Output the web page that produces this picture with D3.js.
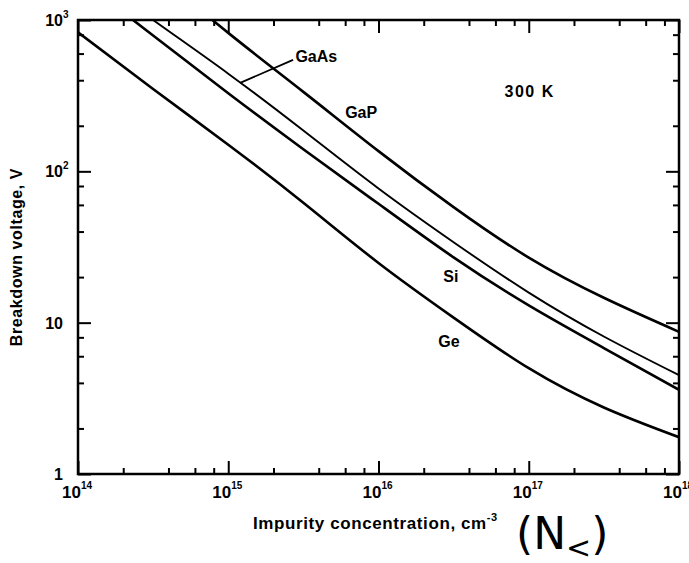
<!DOCTYPE html>
<html>
<head>
<meta charset="utf-8">
<script src="https://cdn.jsdelivr.net/npm/d3@7"></script>
<style>
  body { margin: 0; background: #fff; }
  svg { display: block; }
  text { font-family: "Liberation Sans", Arial, sans-serif; font-weight: bold; fill: #000; }
</style>
</head>
<body>
<div id="chart"></div>
<script>
// impurity concentration, cm^-3 (read every half decade)
const concentration = [1e14, 3.16e14, 1e15, 3.16e15, 1e16, 3.16e16, 1e17, 3.16e17, 1e18];
// breakdown voltage, V (anything above 10^3 is cut off by the frame)
const gapValues = [5100, 2100, 822, 335, 136, 58, 26.9, 14.6, 8.7];
const gaasValues = [2300, 1000, 442, 186, 77, 34, 15.8, 8.1, 4.5];
const siValues = [1900, 791, 328, 140, 61, 27, 13.0, 6.8, 3.6];
const geValues = [830, 350, 150, 62, 24.8, 10.8, 5.0, 2.75, 1.75];

// axis ticks
const xTickExponents = [14, 15, 16, 17, 18];
const yTickValues = [1, 10, 100, 1000];
const yTickBase = ["1", "10", "10", "10"];
const yTickSup = ["", "", "2", "3"];
const minorMultipliers = [2, 4, 6, 8];

// curve labels, placed in data coordinates (start of text, baseline)
const curveLabels = [
  { text: "GaP", n: 6e15, v: 225 },
  { text: "GaAs", n: 2.8e15, v: 530 },
  { text: "Si", n: 2.7e16, v: 18.6 },
  { text: "Ge", n: 2.5e16, v: 6.9 },
  { text: "300 K", n: 6.9e16, v: 310 }
];
// GaAs leader line, from the curve to its label
const gaasLeader = [[1.2e15, 384], [2.7e15, 545]];

const series = [
  { name: "GaP", values: gapValues, width: 2.6 },
  { name: "GaAs", values: gaasValues, width: 1.9 },
  { name: "Si", values: siValues, width: 2.6 },
  { name: "Ge", values: geValues, width: 2.6 }
];

let dimensions = {
  width: 689,
  height: 563,
  margin: { top: 20, right: 10, bottom: 89, left: 78 }
};
dimensions.boundedWidth = dimensions.width - dimensions.margin.left - dimensions.margin.right;
dimensions.boundedHeight = dimensions.height - dimensions.margin.top - dimensions.margin.bottom;

const svg = d3.select("#chart")
  .append("svg")
  .attr("width", dimensions.width)
  .attr("height", dimensions.height);

const bounds = svg.append("g")
  .attr("transform", `translate(${dimensions.margin.left},${dimensions.margin.top})`);

const xScale = d3.scaleLog()
  .domain([1e14, 1e18])
  .range([0, dimensions.boundedWidth]);

const yScale = d3.scaleLog()
  .domain([1, 1000])
  .range([dimensions.boundedHeight, 0]);

bounds.append("clipPath")
  .attr("id", "plot-clip")
  .append("rect")
  .attr("width", dimensions.boundedWidth)
  .attr("height", dimensions.boundedHeight);

// curves
const lineGenerator = d3.line()
  .x((d, i) => xScale(concentration[i]))
  .y(d => yScale(d))
  .curve(d3.curveNatural);

bounds.append("g")
  .attr("clip-path", "url(#plot-clip)")
  .selectAll("path")
  .data(series)
  .join("path")
  .attr("d", d => lineGenerator(d.values))
  .attr("fill", "none")
  .attr("stroke", "#000")
  .attr("stroke-width", d => d.width)
  .attr("stroke-linecap", "round");

// ticks (all pointing inward)
const majorX = xTickExponents.map(e => Math.pow(10, e));
const minorX = [];
xTickExponents.slice(0, -1).forEach(e => minorMultipliers.forEach(m => minorX.push(m * Math.pow(10, e))));
const minorY = [];
[0, 1, 2].forEach(e => minorMultipliers.forEach(m => minorY.push(m * Math.pow(10, e))));

function styleTicks(g) {
  g.select(".domain").remove();
  g.selectAll(".tick line").attr("stroke", "#000").attr("stroke-width", 2);
}

[[majorX, 13], [minorX, 6]].forEach(([vals, size]) => {
  bounds.append("g")
    .attr("transform", `translate(0,${dimensions.boundedHeight})`)
    .call(d3.axisBottom(xScale).tickValues(vals).tickSize(-size).tickFormat(""))
    .call(styleTicks);
  bounds.append("g")
    .call(d3.axisTop(xScale).tickValues(vals).tickSize(-size).tickFormat(""))
    .call(styleTicks);
});

[[yTickValues, 13], [minorY, 6]].forEach(([vals, size]) => {
  bounds.append("g")
    .call(d3.axisLeft(yScale).tickValues(vals).tickSize(-size).tickFormat(""))
    .call(styleTicks);
  bounds.append("g")
    .attr("transform", `translate(${dimensions.boundedWidth},0)`)
    .call(d3.axisRight(yScale).tickValues(vals).tickSize(-size).tickFormat(""))
    .call(styleTicks);
});

// frame
bounds.append("rect")
  .attr("width", dimensions.boundedWidth)
  .attr("height", dimensions.boundedHeight)
  .attr("fill", "none")
  .attr("stroke", "#000")
  .attr("stroke-width", 2.5);

// x tick labels: 10 with superscript exponent
const xLabels = bounds.append("g")
  .attr("transform", `translate(0,${dimensions.boundedHeight + 24})`);
xTickExponents.forEach(e => {
  const x = xScale(Math.pow(10, e));
  xLabels.append("text")
    .attr("x", x + 3)
    .attr("text-anchor", "end")
    .style("font-size", "17px")
    .text("10");
  xLabels.append("text")
    .attr("x", x + 3)
    .attr("y", -9)
    .style("font-size", "10px")
    .text(e);
});

// y tick labels
const yLabels = bounds.append("g");
yTickValues.forEach((v, i) => {
  const y = yScale(v) + 6;
  yLabels.append("text")
    .attr("x", -15)
    .attr("y", y)
    .attr("text-anchor", "end")
    .style("font-size", "16px")
    .text(yTickBase[i]);
  if (yTickSup[i]) {
    yLabels.append("text")
      .attr("x", -15)
      .attr("y", y - 8)
      .style("font-size", "10px")
      .text(yTickSup[i]);
  }
});

// curve labels
bounds.selectAll(".curve-label")
  .data(curveLabels)
  .join("text")
  .attr("class", "curve-label")
  .attr("x", d => xScale(d.n))
  .attr("y", d => yScale(d.v))
  .style("font-size", "16px")
  .style("letter-spacing", d => d.text === "300 K" ? "1.5px" : "0px")
  .text(d => d.text);

bounds.append("path")
  .attr("d", d3.line().x(d => xScale(d[0])).y(d => yScale(d[1]))(gaasLeader))
  .attr("stroke", "#000")
  .attr("stroke-width", 1.8)
  .attr("fill", "none");

// axis titles
svg.append("text")
  .attr("transform", "translate(22,257) rotate(-90)")
  .attr("text-anchor", "middle")
  .style("font-size", "16px")
  .style("letter-spacing", "0.6px")
  .text("Breakdown voltage, V");

const xTitle = svg.append("text")
  .attr("x", 253)
  .attr("y", 529)
  .style("font-size", "17px")
  .style("letter-spacing", "0.6px");
xTitle.append("tspan").text("Impurity concentration, cm");
xTitle.append("tspan").attr("dy", -8).style("font-size", "11px").text("-3");

// handwritten note
const note = svg.append("text")
  .attr("x", 516)
  .attr("y", 549)
  .style("font-family", "'DejaVu Sans', sans-serif")
  .style("font-weight", "normal")
  .style("font-size", "44px");
note.append("tspan").text("(N");
note.append("tspan").attr("dy", 9).style("font-size", "30px").text("<");
note.append("tspan").attr("dy", -9).text(")");
</script>
</body>
</html>
